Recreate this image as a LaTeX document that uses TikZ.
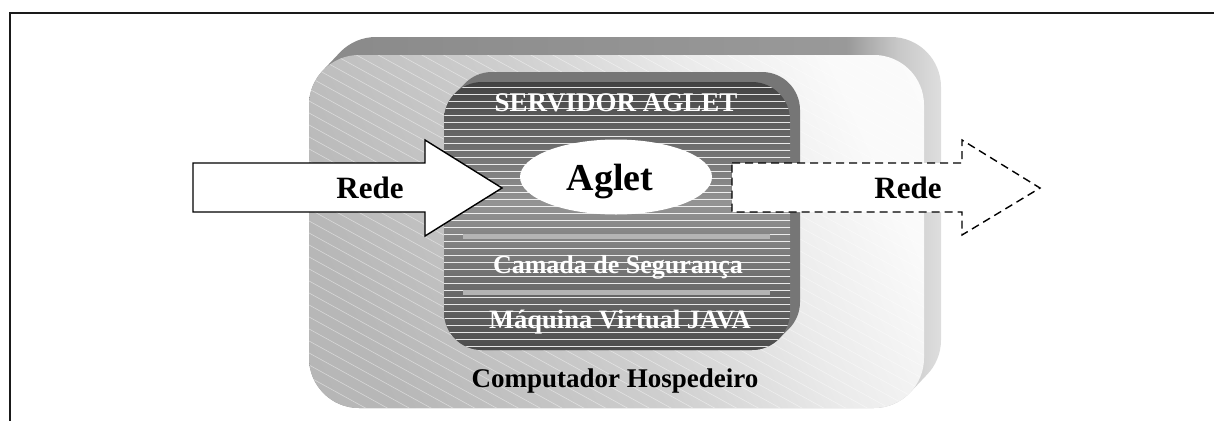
\documentclass[tikz,border=0pt]{standalone}
\usepackage{fontspec}
\setmainfont{Liberation Serif}
\usetikzlibrary{shapes.geometric}

\definecolor{framegray}{HTML}{1A1A1A}
\definecolor{sepgray}{HTML}{B4B4B4}
\definecolor{innerside}{HTML}{767676}

% path shadings: the bounding box of the path covers 25bp..75bp
% side walls of the host block: darker on the left, light at the right edge
\pgfdeclarehorizontalshading{hostside}{100bp}{%
  color(0bp)=(black!46); color(25bp)=(black!46); color(67.5bp)=(black!40);
  color(71.5bp)=(black!22); color(75bp)=(black!13); color(100bp)=(black!13)}
% front of the host block: grey on the left, almost white on the right
\pgfdeclarehorizontalshading{hostface}{100bp}{%
  color(0bp)=(black!30); color(25bp)=(black!28); color(47.5bp)=(black!19);
  color(62.5bp)=(black!8); color(75bp)=(black!2); color(100bp)=(black!1)}
% server face: dark at top and bottom, lighter band in the middle
\pgfdeclareverticalshading{serverface}{100bp}{%
  color(0bp)=(black!70); color(25bp)=(black!70); color(52.5bp)=(black!42);
  color(75bp)=(black!74); color(100bp)=(black!74)}

\tikzset{
  label/.style={font=\bfseries\fontsize{#1}{#1}\selectfont, inner sep=0pt, anchor=base},
  whitelabel/.style={label=#1, text=white},
  netarrow/.style={draw=black, fill=white, line width=1.4pt, line join=miter},
}

\begin{document}
\begin{tikzpicture}[x=1pt, y=-1pt]
\useasboundingbox (0,0) rectangle (1214,421);

% frame lines
\draw[framegray, line width=2pt] (1214,13) -- (10,13) -- (10,421);

% host computer: extruded side walls
\shade[shading=hostside, rounded corners=50]
  \foreach \t in {0,1,...,18} { (309+\t*17/18, 55-\t) rectangle ++(615,353) };
% host computer: front face
\shade[shading=hostface, shading angle=25, rounded corners=50]
  (309,55) rectangle (924,408);
\begin{scope}
  \clip[rounded corners=50] (309,55) rectangle (924,408);
  \foreach \c in {-360,-348,...,420}
    \draw[white, opacity=.45, line width=.6pt] (300,\c) -- (940,\c+352);
\end{scope}

% aglet server: extruded side walls
\fill[innerside, rounded corners=38]
  \foreach \t in {0,1,...,10} { (444+\t, 82-\t) rectangle ++(346,268) };
% aglet server: front face with horizontal lines
\shade[shading=serverface, rounded corners=38] (444,82) rectangle (790,350);
\begin{scope}
  \clip[rounded corners=38] (444,82) rectangle (790,350);
  \foreach \y in {87,94,...,350}
    \draw[white, opacity=.85, line width=.9pt] (440,\y) -- (800,\y);
\end{scope}

% layer separators
\fill[sepgray] (463,234) rectangle (770,239);
\fill[sepgray] (463,290) rectangle (770,295);

% layer titles
\node[whitelabel=27] (server) at (616,111) {SERVIDOR AGLET};
\node[whitelabel=26] (security) at (618,273) {Camada de Segurança};
\node[whitelabel=26.5] (jvm) at (620,328) {Máquina Virtual JAVA};
\node[label=27] (host) at (615,387) {Computador Hospedeiro};

% the aglet
\node[ellipse, fill=white, minimum width=192pt, minimum height=75pt, inner sep=0pt]
  (agletshape) at (616,177) {};
\node[label=38] (aglet) at (610,190) {Aglet};

% incoming network arrow
\draw[netarrow] (193,163) -- (425,163) -- (425,140) -- (502,188)
  -- (425,236) -- (425,212) -- (193,212) -- cycle;
\node[label=31] (netin) at (370,198) {Rede};

% outgoing network arrow (dashed)
\draw[netarrow, dashed, dash pattern=on 8pt off 5pt] (732,163) -- (962,163) -- (962,140)
  -- (1040,188) -- (962,235) -- (962,212) -- (732,212) -- cycle;
\node[label=31] (netout) at (908,198) {Rede};
\end{tikzpicture}
\end{document}
